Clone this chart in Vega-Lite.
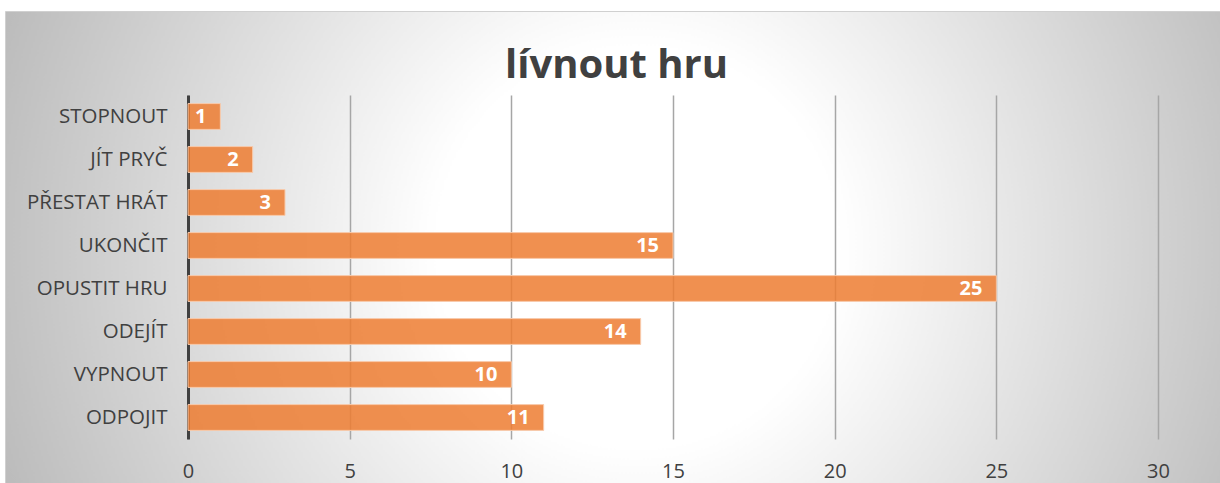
{
  "$schema": "https://vega.github.io/schema/vega-lite/v6.json",
  "width": 1215,
  "height": 472,
  "autosize": {"type": "none"},
  "padding": {"left": 5, "top": 11, "right": 0, "bottom": 0},
  "background": "white",
  "title": {
    "text": "lívnout hru",
    "font": "Open Sans",
    "fontSize": 40,
    "fontWeight": "bold",
    "color": "#404040",
    "anchor": "middle",
    "frame": "group",
    "offset": -107,
    "baseline": "alphabetic",
    "dx": 4
  },
  "data": {
    "values": [
      {"label": "STOPNOUT", "value": 1},
      {"label": "JÍT PRYČ", "value": 2},
      {"label": "PŘESTAT HRÁT", "value": 3},
      {"label": "UKONČIT", "value": 15},
      {"label": "OPUSTIT HRU", "value": 25},
      {"label": "ODEJÍT", "value": 14},
      {"label": "VYPNOUT", "value": 10},
      {"label": "ODPOJIT", "value": 11}
    ]
  },
  "encoding": {
    "y": {
      "field": "label",
      "type": "nominal",
      "sort": null,
      "scale": {"range": [84, 428], "paddingInner": 0.4, "paddingOuter": 0.2},
      "axis": {
        "title": null,
        "orient": "left",
        "offset": -183,
        "ticks": false,
        "grid": false,
        "labelPadding": 21,
        "labelFont": "Open Sans",
        "labelFontSize": 20.5,
        "labelColor": "#404040",
        "domainColor": "#404040",
        "domainWidth": 3
      }
    }
  },
  "layer": [
    {
      "mark": {
        "type": "bar",
        "fill": "#ED7D31",
        "fillOpacity": 0.85,
        "stroke": "#F8CBAD",
        "strokeWidth": 1
      },
      "encoding": {
        "x": {
          "field": "value",
          "type": "quantitative",
          "scale": {"domain": [0, 30], "range": [183, 1153], "nice": false, "zero": true},
          "axis": {
            "title": null,
            "orient": "top",
            "values": [0, 5, 10, 15, 20, 25, 30],
            "grid": true,
            "gridColor": "#a6a6a6",
            "gridWidth": 1.5,
            "domain": false,
            "ticks": false,
            "labels": false
          }
        }
      }
    },
    {
      "mark": {
        "type": "text",
        "align": "right",
        "baseline": "middle",
        "dx": -14,
        "color": "white",
        "font": "Open Sans",
        "fontSize": 20,
        "fontWeight": "bold"
      },
      "encoding": {
        "x": {
          "field": "value",
          "type": "quantitative",
          "axis": {
            "title": null,
            "orient": "bottom",
            "offset": -26,
            "values": [0, 5, 10, 15, 20, 25, 30],
            "grid": false,
            "domain": false,
            "ticks": false,
            "labelPadding": 4,
            "labelFlush": false,
            "labelOverlap": false,
            "labelFont": "Open Sans",
            "labelFontSize": 20,
            "labelColor": "#404040"
          }
        },
        "text": {"field": "value", "type": "quantitative"}
      }
    }
  ],
  "resolve": {"axis": {"x": "independent"}},
  "config": {
    "view": {
      "fill": {
        "gradient": "radial",
        "x1": 0.52, "y1": 0.5, "r1": 0,
        "x2": 0.52, "y2": 0.5, "r2": 0.55,
        "stops": [
          {"offset": 0, "color": "#ffffff"},
          {"offset": 0.3, "color": "#ffffff"},
          {"offset": 1, "color": "#bcbcbc"}
        ]
      },
      "stroke": "#d0d0d0",
      "strokeWidth": 1
    }
  }
}
